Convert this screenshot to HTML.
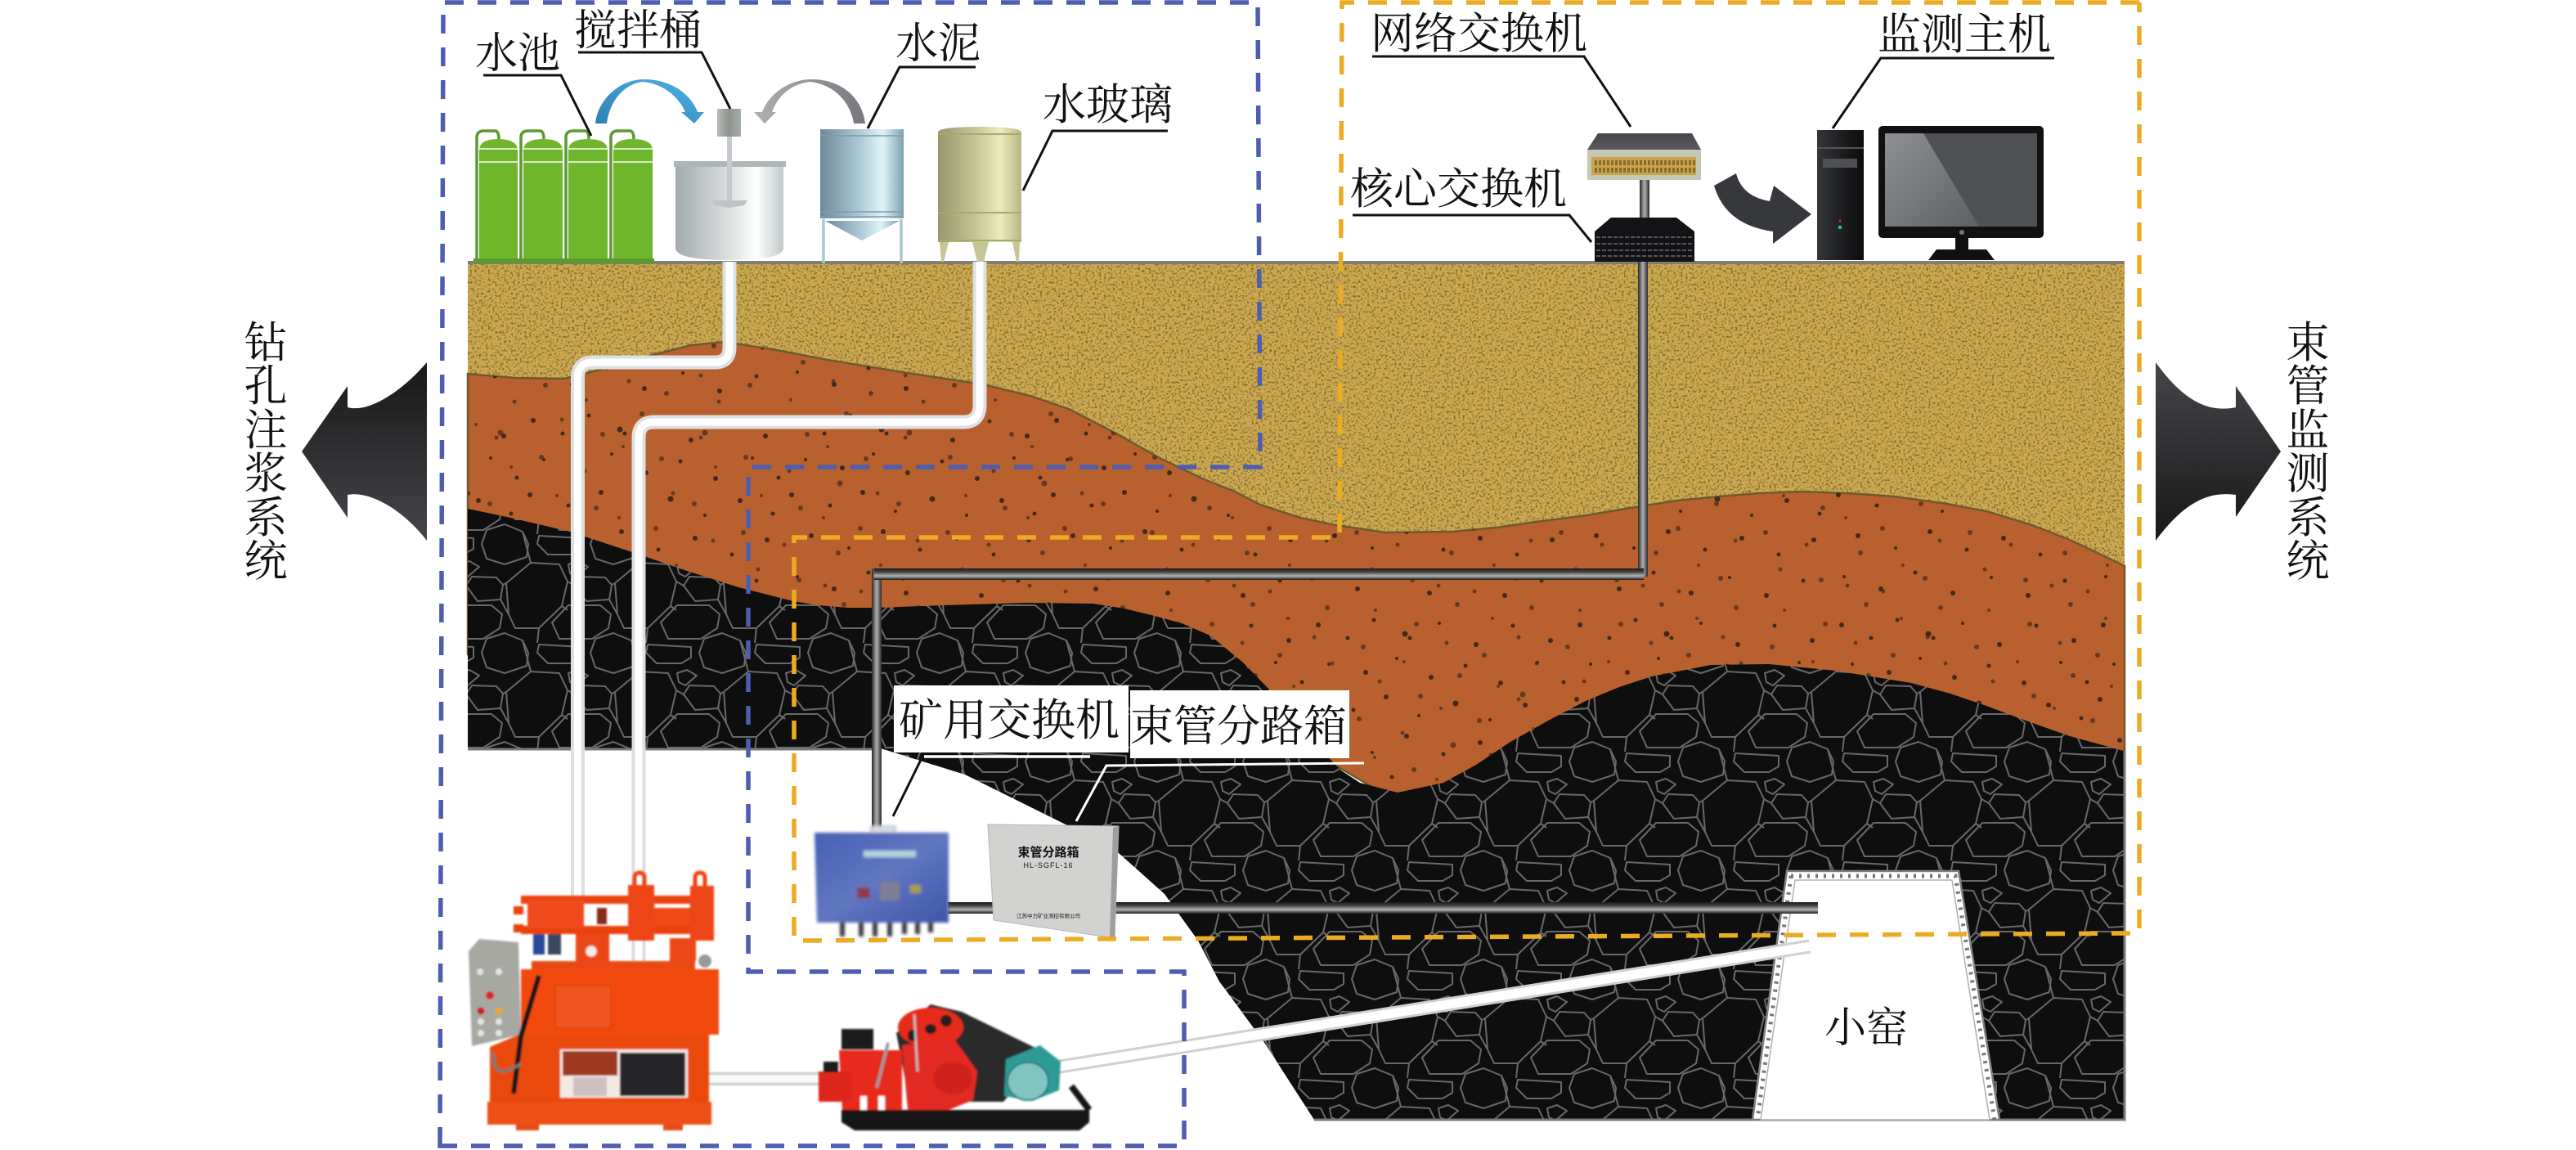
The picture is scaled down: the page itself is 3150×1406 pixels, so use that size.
<!DOCTYPE html>
<html lang="zh"><head><meta charset="utf-8"><title>注浆与束管监测系统</title>
<style>html,body{margin:0;padding:0;background:#fff}svg{display:block}
text{font-family:"Liberation Serif","Noto Serif CJK SC",serif;fill:#111;font-size:53px}</style></head>
<body>
<svg width="3150" height="1406" viewBox="0 0 3150 1406" xmlns="http://www.w3.org/2000/svg">
<defs>
<filter id="sandN" x="0" y="0" width="100%" height="100%" color-interpolation-filters="sRGB">
<feTurbulence type="fractalNoise" baseFrequency="0.36" numOctaves="2" seed="5"/>
<feColorMatrix values="0 0 0 0 .5 0 0 0 0 .4 0 0 0 0 .16 3.400 0 0 0 -1.650"/>
<feComposite in2="SourceAlpha" operator="in" result="n"/>
<feMerge><feMergeNode in="SourceGraphic"/><feMergeNode in="n"/></feMerge>
</filter>
<filter id="soft" x="-5%" y="-5%" width="110%" height="110%"><feGaussianBlur stdDeviation="1"/></filter>
<filter id="soft2" x="-5%" y="-5%" width="110%" height="110%"><feGaussianBlur stdDeviation="1.800"/></filter>
<pattern id="rock" x="55" y="106" width="133" height="133" patternUnits="userSpaceOnUse">
<rect width="133" height="133" fill="#0e0e0e"/>
<g fill="none" stroke="#68686a" stroke-width="2" stroke-linejoin="round">
<path d="M30 3 52 12 59 27 57 43 30 52 8 45 2 27 8 10Z"/>
<path d="M72 17 125 20 125 33 113 40 83 40 70 27Z"/>
<path d="M108 52 120 48 132 55 118 67 110 63Z"/>
<path d="M62 50 97 52 107 73 100 103 72 130 43 130 35 113 32 75Z"/>
<path d="M-17 78-10 67 20 68 28 77 25 95-3 97Z"/>
<path d="M116 78 123 67 153 68 161 77 158 95 130 97Z"/>
<path d="M108 102 147 102 160 113 157 130 137 143 97 143 88 123Z"/>
<path d="M-25 102 14 102 27 113 24 130 4 143-36 143-45 123Z"/>
<path d="M108-31 147-31 160-20 157-3 137 10 97 10 88-10Z"/>
<path d="M-25-31 14-31 27-20 24-3 4 10-36 10-45-10Z"/>
<path d="M32 75 28 77M25 95 35 113M100 103 107 108M62 50 52 12M107 73 116 78M72 130 70 148M72-3 70 15"/>
</g>
</pattern>
<pattern id="spk" x="0" y="0" width="320" height="250" patternUnits="userSpaceOnUse">
<g fill="#43291a">
<circle cx="12" cy="14" r="3"/><circle cx="48" cy="30" r="2.500"/><circle cx="80" cy="8" r="2.500"/><circle cx="118" cy="25" r="3.500"/><circle cx="124" cy="30" r="2.500"/><circle cx="160" cy="12" r="2"/><circle cx="205" cy="38" r="3"/><circle cx="250" cy="15" r="2.500"/><circle cx="296" cy="33" r="3"/>
<circle cx="25" cy="62" r="2"/><circle cx="70" cy="72" r="3"/><circle cx="108" cy="55" r="2"/><circle cx="150" cy="78" r="3"/><circle cx="192" cy="64" r="2.500"/><circle cx="235" cy="85" r="3"/><circle cx="280" cy="60" r="2"/><circle cx="312" cy="84" r="2.500"/>
<circle cx="8" cy="105" r="3"/><circle cx="55" cy="118" r="2.500"/><circle cx="95" cy="102" r="3"/><circle cx="135" cy="125" r="2"/><circle cx="180" cy="110" r="3.500"/><circle cx="222" cy="130" r="2"/><circle cx="265" cy="112" r="3"/><circle cx="305" cy="128" r="2.500"/>
<circle cx="32" cy="155" r="3"/><circle cx="78" cy="170" r="2"/><circle cx="120" cy="150" r="3"/><circle cx="165" cy="172" r="2.500"/><circle cx="210" cy="158" r="3"/><circle cx="255" cy="178" r="2.500"/><circle cx="298" cy="160" r="3"/>
<circle cx="15" cy="205" r="2"/><circle cx="60" cy="220" r="3"/><circle cx="102" cy="200" r="2.500"/><circle cx="148" cy="225" r="3"/><circle cx="195" cy="206" r="2"/><circle cx="240" cy="228" r="3"/><circle cx="285" cy="210" r="2.500"/>
</g>
</pattern>
<pattern id="spk2" href="#spk" patternTransform="translate(137 91) rotate(90)"/>
<linearGradient id="gL" x1="0" y1="0" x2="0" y2="1"><stop offset="0" stop-color="#181818"/><stop offset="1" stop-color="#45464a"/></linearGradient>
<linearGradient id="gR" x1="0" y1="0" x2="0" y2="1"><stop offset="0" stop-color="#45464a"/><stop offset="1" stop-color="#181818"/></linearGradient>
<linearGradient id="gMix" x1="0" y1="0" x2="1" y2="0"><stop offset="0" stop-color="#a3abad"/><stop offset=".45" stop-color="#d6dada"/><stop offset=".75" stop-color="#fff"/><stop offset="1" stop-color="#c2caca"/></linearGradient>
<linearGradient id="gMot" x1="0" y1="0" x2="1" y2="0"><stop offset="0" stop-color="#b8bcb8"/><stop offset=".5" stop-color="#8c928e"/><stop offset="1" stop-color="#a8aeaa"/></linearGradient>
<linearGradient id="gSilo" x1="0" y1="0" x2="1" y2="0"><stop offset="0" stop-color="#6d8a9b"/><stop offset=".45" stop-color="#a9c6d4"/><stop offset=".75" stop-color="#def4f8"/><stop offset="1" stop-color="#7ea0b0"/></linearGradient>
<linearGradient id="gGlass" x1="0" y1="0" x2="1" y2="0"><stop offset="0" stop-color="#97976e"/><stop offset=".45" stop-color="#c5c596"/><stop offset=".75" stop-color="#ecebbd"/><stop offset="1" stop-color="#b5b585"/></linearGradient>
<linearGradient id="gArcB" x1="0" y1="1" x2="1" y2="0"><stop offset="0" stop-color="#2e7fb4"/><stop offset="1" stop-color="#4fb2e4"/></linearGradient>
<linearGradient id="gArcG" x1="0" y1="0" x2="1" y2="0"><stop offset="0" stop-color="#b0b0b0"/><stop offset="1" stop-color="#77777f"/></linearGradient>
<linearGradient id="gStem" x1="0" y1="0" x2="1" y2="0"><stop offset="0" stop-color="#2a2a2a"/><stop offset=".5" stop-color="#b0b0b0"/><stop offset="1" stop-color="#2a2a2a"/></linearGradient>
<linearGradient id="gBox" x1="0" y1="0" x2="1" y2="1"><stop offset="0" stop-color="#4860b4"/><stop offset=".5" stop-color="#6076c0"/><stop offset="1" stop-color="#3f56aa"/></linearGradient>
<linearGradient id="gHp" x1="0" y1="0" x2="0" y2="1"><stop offset="0" stop-color="#1a1a1a"/><stop offset=".3" stop-color="#444"/><stop offset=".65" stop-color="#b5b5b5"/><stop offset="1" stop-color="#1a1a1a"/></linearGradient>
<linearGradient id="gMon" x1="0" y1="0" x2="1" y2="1"><stop offset="0" stop-color="#8e9094"/><stop offset="1" stop-color="#5e6064"/></linearGradient>
<linearGradient id="gSw" x1="0" y1="0" x2="0" y2="1"><stop offset="0" stop-color="#47474a"/><stop offset="1" stop-color="#5a5a5e"/></linearGradient>
<linearGradient id="gTow" x1="0" y1="0" x2="1" y2="0"><stop offset="0" stop-color="#35363a"/><stop offset=".6" stop-color="#1a1b1d"/><stop offset="1" stop-color="#0c0c0e"/></linearGradient>
</defs>
<rect width="3150" height="1406" fill="#fff"/>

<!-- ground layers -->
<rect x="572" y="322" width="2026" height="400" fill="#ccaa52" filter="url(#sandN)"/>
<path d="M572 457 630 462 690 463 750 448 802 433 845 422 886 418 950 428 1012 440 1110 456 1202 470 1260 484 1307 500 1365 530 1418 560 1470 585 1510 601 1541 617 1590 633 1633 642 1694 651 1775 650 1830 645 1878 638 1940 630 2000 620 2050 612 2102 607 2150 603 2204 601 2260 603 2316 607 2375 615 2429 625 2485 642 2531 660 2565 676 2598 692V950L1700 975 1400 800H572Z" fill="#b8612f" stroke="#6f5a2c" stroke-width="2.500"/>
<path d="M572 457 630 462 690 463 750 448 802 433 845 422 886 418 950 428 1012 440 1110 456 1202 470 1260 484 1307 500 1365 530 1418 560 1470 585 1510 601 1541 617 1590 633 1633 642 1694 651 1775 650 1830 645 1878 638 1940 630 2000 620 2050 612 2102 607 2150 603 2204 601 2260 603 2316 607 2375 615 2429 625 2485 642 2531 660 2565 676 2598 692V950L1700 975 1400 800H572Z" fill="url(#spk)"/>
<path d="M572 457 630 462 690 463 750 448 802 433 845 422 886 418 950 428 1012 440 1110 456 1202 470 1260 484 1307 500 1365 530 1418 560 1470 585 1510 601 1541 617 1590 633 1633 642 1694 651 1775 650 1830 645 1878 638 1940 630 2000 620 2050 612 2102 607 2150 603 2204 601 2260 603 2316 607 2375 615 2429 625 2485 642 2531 660 2565 676 2598 692V950L1700 975 1400 800H572Z" fill="url(#spk2)" fill-opacity=".7"/>
<path d="M572 622 620 632 697 650 773 675 837 697 903 718 970 735 1000 740 1037 743 1071 743 1153 740 1255 737 1337 738 1375 744 1408 752 1445 762 1480 777 1520 810 1556 847 1585 880 1612 913 1640 942 1663 957 1709 969 1765 957 1805 935 1847 907 1895 880 1939 857 1980 840 2020 827 2092 813 2163 812 2245 820 2337 835 2385 848 2429 863 2480 882 2531 900 2597 918 2598 1369H1607L1547 1276 1500 1212 1491 1200 1465 1150 1424 1093 1368 1043 1307 1010 1180 947 1077 915H572Z" fill="url(#rock)"/>
<path d="M572 916H1077M1607 1369H2598V918" fill="none" stroke="#7a7a7a" stroke-width="3"/>
<rect x="572" y="319" width="2026" height="4" fill="#7e7e76"/>

<!-- kiln -->
<path d="M2185 1065H2395L2445 1369H2143Z" fill="#fff" stroke="#808080" stroke-width="2.500"/>
<path d="M2190 1071H2391L2439 1369" fill="none" stroke="#777" stroke-width="5" stroke-dasharray="3 7"/>
<path d="M2190 1071 2149 1369" fill="none" stroke="#777" stroke-width="5" stroke-dasharray="3 7"/>
<path d="M2195 1076H2387L2433 1369H2153Z" fill="#fff" stroke="#b0b0b0" stroke-width="1.500"/>
<text x="2231" y="1274" style="font-size:51px">小窑</text>

<!-- white pipes -->
<g fill="none" stroke-linejoin="round">
<path d="M892 320V425Q892 443 874 443H725Q706.500 443 706.500 462V1100" stroke="#dcdfe3" stroke-width="17"/>
<path d="M892 320V425Q892 443 874 443H725Q706.500 443 706.500 462V1100" stroke="#fff" stroke-width="9"/>
<path d="M1198 320V495Q1198 516 1178 516H800Q781 516 781 535V1175" stroke="#dcdfe3" stroke-width="17"/>
<path d="M1198 320V495Q1198 516 1178 516H800Q781 516 781 535V1175" stroke="#fff" stroke-width="9"/>
<path d="M860 1319H1010" stroke="#d8d8d8" stroke-width="17"/>
<path d="M860 1319H1010" stroke="#fafafa" stroke-width="9"/>
<path d="M1290 1305 2213 1157" stroke="#d0d0d0" stroke-width="17"/>
<path d="M1290 1305 2213 1157" stroke="#fff" stroke-width="11"/>
</g>

<!-- dark pipes -->
<rect x="2003" y="320" width="12" height="385" fill="url(#gStem)"/>
<rect x="1066" y="695" width="12" height="320" fill="url(#gStem)"/>
<rect x="1069" y="695" width="941" height="14" fill="url(#gHp)"/>
<rect x="1159" y="1103" width="1064" height="14" fill="url(#gHp)"/>

<!-- water tanks -->
<g>
<rect x="579" y="316" width="221" height="6" fill="#5c9a30"/>
<g fill="none" stroke="#5c9a30" stroke-width="3.500">
<path d="M583 316V168Q583 160 592 160H605Q610 160 610 170"/>
<path d="M637 316V168Q637 160 646 160H660Q665 160 665 170"/>
<path d="M692 316V168Q692 160 701 160H715Q720 160 720 170"/>
<path d="M747 316V168Q747 160 756 160H770Q775 160 775 170"/>
</g>
<g fill="#70b62d">
<path d="M586 316V184Q586 170 609 170Q633 170 633 184V316Z"/>
<path d="M640 316V184Q640 170 664 170Q688 170 688 184V316Z"/>
<path d="M695 316V184Q695 170 719 170Q743 170 743 184V316Z"/>
<path d="M750 316V184Q750 170 774 170Q798 170 798 184V316Z"/>
</g>
<g stroke="#e8f4d6" stroke-width="1.800"><path d="M586 182H633M586 198H633M640 182H688M640 198H688M695 182H743M695 198H743M750 182H798M750 198H798"/></g>
</g>

<!-- mixer -->
<path d="M826 203H958V303Q958 318 892 318Q826 318 826 303Z" fill="url(#gMix)"/>
<rect x="824" y="197" width="137" height="7" fill="#aeb6b8"/>
<rect x="889" y="166" width="6" height="84" fill="#c4cace"/>
<rect x="877" y="133" width="29" height="34" fill="url(#gMot)"/>
<path d="M870 245H914L910 251 892 254 874 251Z" fill="#bcc4c6"/>

<!-- silo -->
<path d="M1003 158H1105V267H1003Z" fill="url(#gSilo)"/>
<path d="M1009 270H1100L1054 294Z" fill="url(#gSilo)"/>
<path d="M1003 166H1105M1003 259H1105M1003 265H1105" stroke="#7f9cab" stroke-width="1.500"/>
<path d="M1007 268V322M1102 268V322" stroke="#a9c8d4" stroke-width="3.500"/>

<!-- water glass tank -->
<path d="M1147 162Q1147 155 1198 155Q1249 155 1249 162V296H1147Z" fill="url(#gGlass)"/>
<path d="M1147 164H1249M1147 260H1249M1147 294H1249" stroke="#a9a968" stroke-width="2"/>
<path d="M1149 296H1160L1154 320H1151ZM1189 296H1209L1203 320H1195ZM1238 296H1247L1246 320H1243Z" fill="#c5c596"/>

<!-- flow arrows -->
<path d="M728 151C730 125 755 97 788 97C820 97 845 115 853 137H861L849 151 833 137H838C830 118 810 102 786 100C762 103 745 125 742 151Z" fill="url(#gArcB)"/>
<path d="M1058 151C1054 120 1030 97 992 97C965 97 940 115 932 137H922L935 151 949 137H944C950 120 965 103 990 100C1020 103 1040 125 1044 151Z" fill="url(#gArcG)"/>

<!-- labels top left -->
<text x="581" y="83" style="font-size:52px">水池</text>
<text x="702" y="55" style="font-size:52px">搅拌桶</text>
<text x="1095" y="71" style="font-size:52px">水泥</text>
<text x="1275" y="146" style="font-size:53px">水玻璃</text>
<g fill="none" stroke="#111" stroke-width="3">
<path d="M591 92H686L723 166"/><path d="M707 64H858L893 133"/><path d="M1193 82H1100L1061 157"/><path d="M1428 160H1287L1251 233"/>
</g>

<!-- network switches -->
<rect x="2005" y="220" width="12" height="48" fill="url(#gStem)"/>
<path d="M1954 163H2069L2080 183H1941Z" fill="url(#gSw)"/>
<rect x="1941" y="183" width="139" height="37" fill="#c6c7b4"/>
<rect x="1946" y="192" width="128" height="22" fill="#c9a24c"/>
<path d="M1950 199H2073M1950 208H2073" stroke="#8a6a28" stroke-width="6" stroke-dasharray="3 2"/>
<path d="M1970 266H2050L2072 283V320H1950V283Z" fill="#131316"/>
<path d="M1952 290H2070M1952 298H2070M1952 306H2070M1952 313H2070" stroke="#6a6a70" stroke-width="1.500" stroke-dasharray="5 2"/>
<path d="M2096 227 2123 212Q2130 240 2164 246L2169 227 2215 262 2168 298V283Q2110 275 2096 227Z" fill="#36383c"/>

<!-- computer -->
<rect x="2222" y="159" width="57" height="159" fill="url(#gTow)"/>
<rect x="2222" y="180" width="57" height="2" fill="#555"/>
<rect x="2229" y="194" width="42" height="11" fill="#4f5054"/>
<circle cx="2250" cy="270" r="1.500" fill="#c33"/><circle cx="2250" cy="278" r="2.200" fill="#3c6"/>
<rect x="2297" y="154" width="202" height="137" rx="5" fill="#111"/>
<rect x="2305" y="163" width="186" height="114" fill="#4f5155"/>
<path d="M2305 163H2352L2420 277H2305Z" fill="url(#gMon)"/>
<rect x="2391" y="291" width="16" height="14" fill="#111"/>
<path d="M2368 305H2429L2439 318H2358Z" fill="#111"/>
<circle cx="2399" cy="284" r="3" fill="#777"/>

<!-- labels top right -->
<text x="1676" y="59">网络交换机</text>
<text x="2296" y="60">监测主机</text>
<text x="1651" y="249">核心交换机</text>
<g fill="none" stroke="#111" stroke-width="3">
<path d="M1678 69H1937L1994 155"/><path d="M2512 71H2300L2241 157"/><path d="M1654 263H1919L1946 296"/>
</g>

<!-- underground boxes -->
<g filter="url(#soft2)">
<path d="M1065 1018V1010H1095V1018" fill="#d7dbe3" stroke="#c2c6d0" stroke-width="2"/>
<path d="M996 1018H1160V1128H999Z" fill="url(#gBox)"/>
<rect x="1056" y="1040" width="64" height="8" fill="#b8d0dc"/>
<rect x="1048" y="1085" width="16" height="13" fill="#8e3a48"/>
<rect x="1076" y="1078" width="24" height="23" fill="#7c7e94"/>
<rect x="1113" y="1082" width="13" height="10" fill="#a8a04a"/>
<path d="M1030 1128V1145M1053 1128V1145M1070 1128V1145M1088 1128V1145M1106 1128V1142M1122 1128V1142M1138 1128V1140" stroke="#3a3a44" stroke-width="6"/>
</g>
<path d="M1208 1008 1368 1010 1363 1147 1215 1125Z" fill="#d2d2d0" stroke="#b5b5b3" stroke-width="1"/>
<path d="M1368 1010 1363 1147 1357 1146 1361 1012Z" fill="#9e9e9e"/>
<text x="1282" y="1047" text-anchor="middle" style="font-size:15px;font-weight:700;font-family:'Liberation Sans','Noto Sans CJK SC',sans-serif">束管分路箱</text>
<text x="1282" y="1061" text-anchor="middle" style="font-size:9px;font-family:'Liberation Sans','Noto Sans CJK SC',sans-serif;letter-spacing:1px">HL-SGFL-16</text>
<text x="1282" y="1122" text-anchor="middle" style="font-size:6.500px;font-family:'Liberation Sans','Noto Sans CJK SC',sans-serif">江苏中力矿业测控有限公司</text>

<rect x="1093" y="838" width="287" height="82" fill="#fff"/>
<rect x="1382" y="844" width="268" height="83" fill="#fff"/>
<text x="1099" y="899" style="font-size:54px">矿用交换机</text>
<text x="1382" y="906" style="font-size:53px">束管分路箱</text>
<path d="M1130 925H1333" stroke="#fff" stroke-width="3.500"/>
<path d="M1128 925 1092 998" stroke="#111" stroke-width="3"/>
<path d="M1668 933 1353 936 1316 1004" fill="none" stroke="#fff" stroke-width="3"/>

<!-- big pump -->
<g filter="url(#soft)">
<path d="M573 1163 586 1148 634 1152 637 1265 577 1279Z" fill="#a7a8a2"/>
<g fill="#e4e4e0"><circle cx="587" cy="1188" r="4"/><circle cx="610" cy="1188" r="4"/><circle cx="588" cy="1249" r="4"/><circle cx="610" cy="1249" r="4"/><circle cx="588" cy="1263" r="4"/><circle cx="610" cy="1263" r="4"/></g>
<circle cx="599" cy="1217" r="5" fill="#d92626"/><circle cx="588" cy="1236" r="4.500" fill="#c52020"/><circle cx="610" cy="1236" r="4.500" fill="#e5a820"/>
<rect x="650" y="1175" width="200" height="12" fill="#ea4a12"/>
<rect x="637" y="1185" width="242" height="80" fill="#f1490f"/>
<rect x="679" y="1205" width="68" height="52" fill="#ee5520" stroke="#d8420e" stroke-width="1.500"/>
<path d="M634 1265H867V1347H599L599 1280Z" fill="#ea4a10"/>
<rect x="685" y="1283" width="156" height="59" fill="#f4e8e4"/>
<rect x="688" y="1285" width="67" height="30" fill="#9c3a22"/>
<rect x="701" y="1317" width="41" height="23" fill="#cfc0c0"/>
<rect x="758" y="1287" width="80" height="53" fill="#26262a"/>
<rect x="596" y="1347" width="274" height="28" fill="#ee4f14"/>
<rect x="631" y="1375" width="28" height="7" fill="#e84a12"/><rect x="811" y="1375" width="24" height="7" fill="#e84a12"/>
<path d="M659 1193 637 1267 628 1337" fill="none" stroke="#181818" stroke-width="6"/>
<path d="M603 1287Q603 1310 616 1310 632 1305 637 1300" fill="none" stroke="#777" stroke-width="4"/>
<rect x="637" y="1095" width="220" height="10" fill="#e9420f"/>
<rect x="637" y="1132" width="220" height="10" fill="#e9420f"/>
<rect x="645" y="1100" width="69" height="35" fill="#f0491a"/>
<rect x="628" y="1108" width="12" height="10" fill="#e9420f"/><rect x="628" y="1130" width="12" height="10" fill="#e9420f"/>
<rect x="800" y="1110" width="48" height="22" fill="#ee4814"/>
<rect x="768" y="1082" width="32" height="68" fill="#ee4512"/>
<rect x="844" y="1083" width="29" height="67" fill="#ee4512"/>
<path d="M776 1082V1073Q776 1067 782 1067Q788 1067 788 1073V1082M850 1083V1073Q850 1067 856 1067Q862 1067 862 1073V1083" fill="none" stroke="#ee4512" stroke-width="5"/>
<rect x="730" y="1110" width="12" height="20" fill="#8c2c1a"/>
<rect x="704" y="1142" width="41" height="42" fill="#ec4612"/>
<rect x="819" y="1147" width="32" height="28" fill="#ec4612"/>
<rect x="652" y="1142" width="14" height="25" fill="#2c4a98"/><rect x="670" y="1142" width="16" height="25" fill="#3a4660"/>
<circle cx="723" cy="1163" r="7" fill="#f8e8ec" stroke="#d84" stroke-width="1"/>
<circle cx="862" cy="1175" r="8" fill="#9a9a98"/>
</g>

<!-- small pump -->
<g filter="url(#soft)">
<path d="M1096 1263 1138 1228 1176 1237 1278 1287 1227 1347H1112Z" fill="#2b2b29"/>
<ellipse cx="1138" cy="1256" rx="40" ry="24" fill="#e6291d"/>
<g fill="#2a1a1a"><ellipse cx="1157" cy="1248" rx="7" ry="7"/><ellipse cx="1116" cy="1266" rx="6" ry="7"/><ellipse cx="1138" cy="1258" rx="7" ry="6"/></g>
<path d="M1103 1278 1165 1268 1195 1310 1190 1345 1160 1357H1110Z" fill="#e32b20"/>
<ellipse cx="1165" cy="1318" rx="24" ry="20" fill="#cf231a"/>
<path d="M1026 1284H1103V1357H1030Z" fill="#e72a1e"/>
<rect x="1001" y="1310" width="41" height="37" fill="#df281c"/>
<rect x="1029" y="1258" width="39" height="25" fill="#1c1c1e"/>
<rect x="1007" y="1298" width="18" height="13" fill="#1c1c1e"/>
<path d="M1086 1275 1072 1330" stroke="#9a9a9a" stroke-width="4"/>
<path d="M1118 1240 1122 1310" stroke="#bbb" stroke-width="3"/>
<rect x="1052" y="1340" width="8" height="18" fill="#fff"/><rect x="1074" y="1340" width="8" height="18" fill="#fff"/>
<path d="M1029 1357H1332V1372L1320 1382H1045L1029 1372Z" fill="#151515"/>
<path d="M1310 1328 1332 1357" stroke="#151515" stroke-width="8"/>
<path d="M1230 1295 1272 1278 1297 1298 1295 1333 1262 1346 1228 1340Z" fill="#2d9a96"/>
<ellipse cx="1257" cy="1322" rx="25" ry="23" fill="#82c4c2" stroke="#1f7c7a" stroke-width="2"/>
</g>

<!-- side arrows and labels -->
<path d="M369 552 425 472V498C450 505 490 480 522 443V661C490 620 450 600 425 605V633Z" fill="url(#gL)"/>
<path d="M2789 552 2734 472V498C2700 505 2670 490 2636 443V661C2670 615 2700 600 2734 605V632Z" fill="url(#gR)"/>
<g text-anchor="middle">
<text x="325" y="437">钻</text><text x="325" y="490">孔</text><text x="325" y="544">注</text><text x="325" y="597">浆</text><text x="325" y="651">系</text><text x="325" y="704">统</text>
<text x="2822" y="437">束</text><text x="2822" y="490">管</text><text x="2822" y="544">监</text><text x="2822" y="597">测</text><text x="2822" y="651">系</text><text x="2822" y="704">统</text>
</g>

<!-- dashed system boundaries -->
<path d="M538 1401 542 3H1538L1541 571H915V1188H1448V1401Z" fill="none" stroke="#4f5db0" stroke-width="5.500" stroke-dasharray="23 17"/>
<path d="M2616 3H1641L1638 657H971V1150L2616 1141V3" fill="none" stroke="#ecab24" stroke-width="5.500" stroke-dasharray="23 17"/>
</svg>
</body></html>
